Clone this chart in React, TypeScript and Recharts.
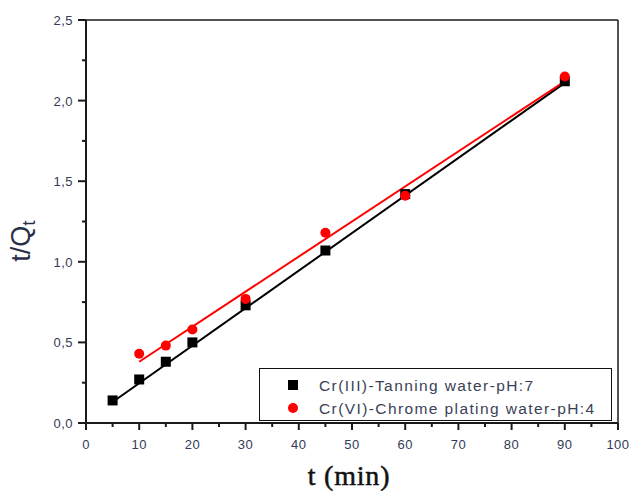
import React from "react";
import {
  ComposedChart,
  Line,
  Scatter,
  XAxis,
  YAxis,
  Legend,
  ReferenceLine,
} from "recharts";

// Measured points
const timeCr3 = [5, 10, 15, 20, 30, 45, 60, 90];
const tqCr3 = [0.14, 0.27, 0.38, 0.5, 0.73, 1.07, 1.42, 2.12];
const timeCr6 = [10, 15, 20, 30, 45, 60, 90];
const tqCr6 = [0.43, 0.48, 0.58, 0.77, 1.18, 1.41, 2.15];

// Linear fit end points
const fitTimeCr3 = [5, 90];
const fitCr3 = [0.13, 2.11];
const fitTimeCr6 = [10, 90];
const fitCr6 = [0.38, 2.12];

const xTicks = [0, 5, 10, 15, 20, 25, 30, 35, 40, 45, 50, 55, 60, 65, 70, 75, 80, 85, 90, 95, 100];
const yTicks = [0, 0.25, 0.5, 0.75, 1, 1.25, 1.5, 1.75, 2, 2.25, 2.5];

const legendLabels = ["Cr(III)-Tanning water-pH:7", "Cr(VI)-Chrome plating water-pH:4"];

const pts = (xs: number[], ys: number[]) => xs.map((t, i) => ({ t, v: ys[i] }));

const cr3Data = pts(timeCr3, tqCr3);
const cr6Data = pts(timeCr6, tqCr6);
const cr3Fit = pts(fitTimeCr3, fitCr3);
const cr6Fit = pts(fitTimeCr6, fitCr6);

const AXIS = "#1a1a1a";
const TICK_FONT = "'Liberation Sans', Arial, sans-serif";
const TICK_COLOR = "#333a55";

const XTick = (props: any) => {
  const { x, y, payload } = props;
  const major = payload.value % 10 === 0;
  return (
    <g>
      <line x1={x} x2={x} y1={y} y2={y + (major ? 7 : 4)} stroke={AXIS} strokeWidth={2} />
      {major && (
        <text x={x} y={y + 26} textAnchor="middle" fontSize={13} fontFamily={TICK_FONT} fill={TICK_COLOR} letterSpacing={0.5}>
          {payload.value}
        </text>
      )}
    </g>
  );
};

const YTick = (props: any) => {
  const { x, y, payload } = props;
  const major = Math.round(payload.value * 100) % 50 === 0;
  return (
    <g>
      <line x1={x - (major ? 8 : 4)} x2={x} y1={y} y2={y} stroke={AXIS} strokeWidth={2} />
      {major && (
        <text x={x - 13} y={y + 5} textAnchor="end" fontSize={13} fontFamily={TICK_FONT} fill={TICK_COLOR} letterSpacing={0.5}>
          {payload.value.toFixed(1).replace(".", ",")}
        </text>
      )}
    </g>
  );
};

const SquareDot = (props: any) => {
  const { cx, cy } = props;
  return <rect x={cx - 5} y={cy - 5} width={10} height={10} fill="#000" />;
};

const CircleDot = (props: any) => {
  const { cx, cy } = props;
  return <circle cx={cx} cy={cy} r={5} fill="#ff0000" />;
};

const LegendBox = () => (
  <div
    style={{
      width: 351,
      height: 51,
      border: "1.5px solid #111",
      background: "#fff",
      boxSizing: "content-box",
    }}
  >
    <svg width={351} height={51} style={{ position: "absolute", left: 1.5, top: 1.5 }}>
      <rect x={27} y={10} width={10} height={10} fill="#000" />
      <circle cx={32} cy={38} r={5} fill="#ff0000" />
      <text x={58} y={21} fontSize={15.5} fontFamily={TICK_FONT} fill="#3a3f58" letterSpacing={1.4}>
        {legendLabels[0]}
      </text>
      <text x={58} y={44} fontSize={15.5} fontFamily={TICK_FONT} fill="#3a3f58" letterSpacing={1.4}>
        {legendLabels[1]}
      </text>
    </svg>
  </div>
);

export default function App() {
  return (
    <div style={{ position: "absolute", left: 0, top: 0, background: "#fff" }}>
      <ComposedChart width={631} height={492} margin={{ top: 20, right: 13, bottom: 0, left: 0 }}>
        <XAxis
          type="number"
          dataKey="t"
          domain={[0, 100]}
          ticks={xTicks}
          interval={0}
          height={69}
          tickSize={0}
          tickMargin={0}
          tick={<XTick />}
          stroke={AXIS}
          strokeWidth={2}
          label={{
            content: (p: any) => {
              const vb = p.viewBox;
              return (
                <text
                  x={vb.x + vb.width / 2 - 3}
                  y={vb.y + 62}
                  textAnchor="middle"
                  fontSize={28}
                  fontFamily="'Liberation Serif', 'Times New Roman', serif"
                  fill="#111"
                  stroke="#111"
                  strokeWidth={0.5}
                  letterSpacing={0.8}
                >
                  t (min)
                </text>
              );
            },
          }}
        />
        <YAxis
          type="number"
          dataKey="v"
          domain={[0, 2.5]}
          ticks={yTicks}
          interval={0}
          width={86}
          tickSize={0}
          tickMargin={0}
          tick={<YTick />}
          stroke={AXIS}
          strokeWidth={2}
          label={{
            content: (p: any) => {
              const vb = p.viewBox;
              const cx = vb.x + 30;
              const cy = 241;
              return (
                <text
                  x={cx}
                  y={cy}
                  transform={`rotate(-90, ${cx}, ${cy})`}
                  textAnchor="middle"
                  fontSize={27}
                  fontFamily={TICK_FONT}
                  fill="#2a2f48"
                >
                  t/Q
                  <tspan fontSize={19} dy={5}>t</tspan>
                </text>
              );
            },
          }}
        />
        <ReferenceLine y={2.5} stroke={AXIS} strokeWidth={1.5} />
        <ReferenceLine x={100} stroke={AXIS} strokeWidth={1.5} />
        <Line
          data={cr3Fit}
          dataKey="v"
          stroke="#000"
          strokeWidth={2}
          dot={false}
          isAnimationActive={false}
          legendType="none"
        />
        <Line
          data={cr6Fit}
          dataKey="v"
          stroke="#ff0000"
          strokeWidth={2}
          dot={false}
          isAnimationActive={false}
          legendType="none"
        />
        <Scatter data={cr3Data} dataKey="v" shape={<SquareDot />} isAnimationActive={false} />
        <Scatter data={cr6Data} dataKey="v" shape={<CircleDot />} isAnimationActive={false} />
        <Legend
          layout="horizontal"
          verticalAlign="middle"
          align="center"
          content={() => <LegendBox />}
          wrapperStyle={{ left: 259, top: 368, width: "auto" }}
        />
      </ComposedChart>
    </div>
  );
}
